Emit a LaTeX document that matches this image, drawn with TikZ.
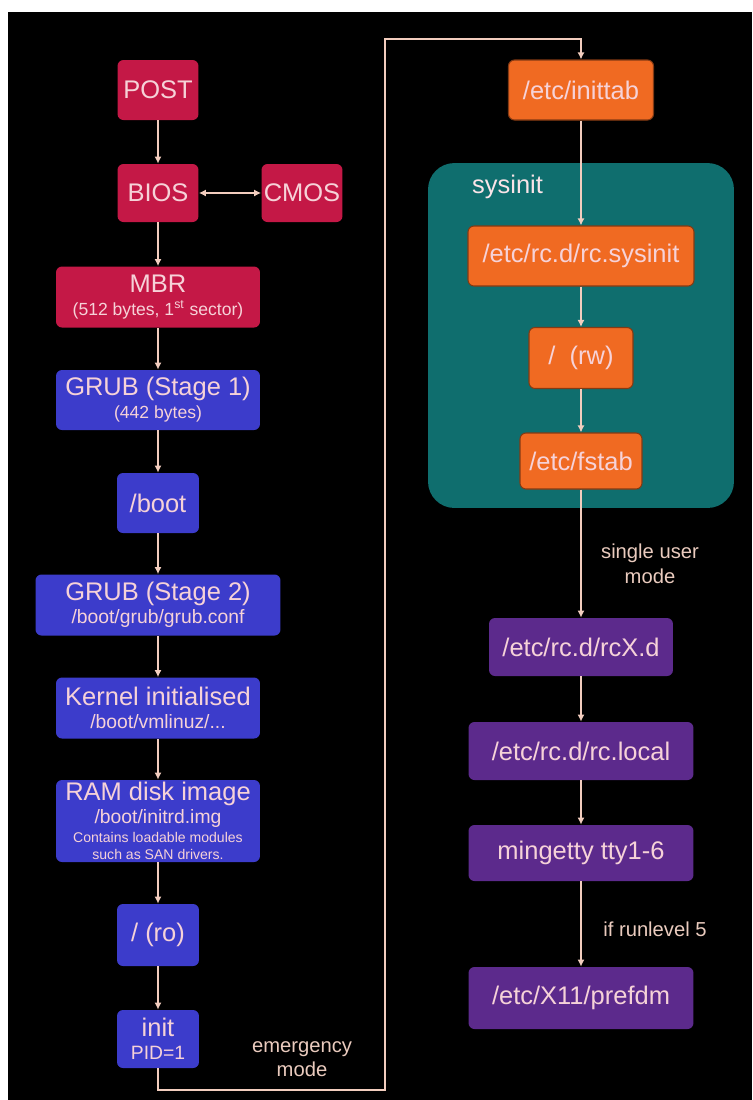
\documentclass[tikz,border=0pt]{standalone}
\usepackage{fontspec}
\setmainfont{Liberation Sans}
\usepackage{xcolor}
\usepackage{tikz}
\usetikzlibrary{arrows.meta}

\definecolor{bootred}{HTML}{C41846}
\definecolor{bootblue}{HTML}{3C3CCB}
\definecolor{initorange}{HTML}{F06A22}
\definecolor{systeal}{HTML}{0F6E6E}
\definecolor{rcpurple}{HTML}{5C2A8C}
\definecolor{boxtext}{HTML}{F6D2D8}
\definecolor{flowline}{HTML}{F2CDBE}
\definecolor{notetext}{HTML}{EACBBE}

\newcommand{\subline}[1]{{\fontsize{11}{13}\selectfont #1}}
\newcommand{\tinyline}[1]{{\fontsize{10}{12}\selectfont #1}}
\newcommand{\smallline}[1]{{\fontsize{8}{9.5}\selectfont #1}}

\begin{document}
\begin{tikzpicture}[x=0.02cm,y=-0.02cm,
    box/.style={rectangle,rounded corners=3.4pt,inner sep=0pt,align=center,
        text=boxtext,font=\fontsize{14.5}{16}\selectfont},
    redbox/.style={box,fill=bootred},
    bluebox/.style={box,fill=bootblue},
    orangebox/.style={box,fill=initorange,draw=initorange!55!black,line width=0.6pt},
    purplebox/.style={box,fill=rcpurple},
    flow/.style={draw=flowline,line width=1pt,-{Latex[length=4pt,width=4pt]}},
    flowboth/.style={draw=flowline,line width=1pt,{Latex[length=4pt,width=4pt]}-{Latex[length=4pt,width=4pt]}},
    note/.style={text=notetext,align=center,font=\fontsize{11.5}{14}\selectfont}]
    \useasboundingbox (0,0) rectangle (752,1100);
    \fill[white] (0,0) rectangle (752,1100);
    \fill[black] (8,12) rectangle (752,1100);

    % boot chain
    \node[redbox,minimum width=1.62cm,minimum height=1.2cm] (post) at (158,90) {POST};
    \node[redbox,minimum width=1.62cm,minimum height=1.16cm] (bios) at (158,193) {BIOS};
    \node[redbox,minimum width=1.62cm,minimum height=1.16cm] (cmos) at (302,193) {CMOS};
    \node[redbox,minimum width=4.08cm,minimum height=1.22cm] (mbr) at (158,297)
        {MBR\\[-3pt]\tinyline{(512 bytes, 1\textsuperscript{st} sector)}};
    \node[bluebox,minimum width=4.08cm,minimum height=1.2cm] (grubone) at (158,400)
        {GRUB (Stage 1)\\[-3pt]\tinyline{(442 bytes)}};
    \node[bluebox,minimum width=1.64cm,minimum height=1.2cm] (boot) at (158,503) {/boot};
    \node[bluebox,minimum width=4.9cm,minimum height=1.22cm] (grubtwo) at (158,605)
        {GRUB (Stage 2)\\[-3pt]\subline{/boot/grub/grub.conf}};
    \node[bluebox,minimum width=4.08cm,minimum height=1.22cm] (kernel) at (158,708)
        {Kernel initialised\\[-3pt]\subline{/boot/vmlinuz/...}};
    \node[bluebox,minimum width=4.08cm,minimum height=1.64cm] (ramdisk) at (158,821)
        {RAM disk image\\[-3pt]\subline{/boot/initrd.img}\\[-5pt]\smallline{Contains loadable modules}\\[-6.5pt]\smallline{such as SAN drivers.}};
    \node[bluebox,minimum width=1.64cm,minimum height=1.24cm] (rootro) at (158,935) {/ (ro)};
    \node[bluebox,minimum width=1.64cm,minimum height=1.16cm] (init) at (158,1039)
        {init\\[-3pt]\subline{PID=1}};

    % sysinit group
    \node[rectangle,fill=systeal,rounded corners=15pt,minimum width=6.12cm,minimum height=6.9cm] (sysinit) at (581,335.5) {};
    \node[anchor=west,text=boxtext!60!white,font=\fontsize{14.5}{16}\selectfont] (sysinitlbl) at (466,187) {sysinit};

    % init chain
    \node[orangebox,minimum width=2.9cm,minimum height=1.2cm] (inittab) at (581,90) {/etc/inittab};
    \node[orangebox,minimum width=4.52cm,minimum height=1.2cm] (rcsysinit) at (581,256) {/etc/rc.d/rc.sysinit};
    \node[orangebox,minimum width=2.08cm,minimum height=1.22cm] (rootrw) at (581,358) {/\ \ (rw)};
    \node[orangebox,minimum width=2.44cm,minimum height=1.12cm] (fstab) at (581,461) {/etc/fstab};
    \node[purplebox,minimum width=3.68cm,minimum height=1.16cm] (rcxd) at (581,647) {/etc/rc.d/rcX.d};
    \node[purplebox,minimum width=4.5cm,minimum height=1.16cm] (rclocal) at (581,751) {/etc/rc.d/rc.local};
    \node[purplebox,minimum width=4.5cm,minimum height=1.12cm] (mingetty) at (581,853) {mingetty tty1-6};
    \node[purplebox,minimum width=4.5cm,minimum height=1.24cm] (prefdm) at (581,998) {/etc/X11/prefdm};

    % labels
    \node[note] (emergency) at (302,1059) {emergency\\mode};
    \node[note] (single) at (650,564) {single user\\mode};
    \node[note] (runlevel) at (655,929) {if runlevel 5};

    % connectors
    \foreach \a/\b in {post/bios,bios/mbr,mbr/grubone,grubone/boot,boot/grubtwo,
        grubtwo/kernel,kernel/ramdisk,ramdisk/rootro,rootro/init,
        inittab/rcsysinit,rcsysinit/rootrw,rootrw/fstab,fstab/rcxd,
        rcxd/rclocal,rclocal/mingetty,mingetty/prefdm}
        \draw[flow] (\a) -- (\b);
    \draw[flowboth] (bios) -- (cmos);
    \draw[flow] (init.south) |- (385,1090) -- (385,39) -| (inittab.north);
\end{tikzpicture}
\end{document}
